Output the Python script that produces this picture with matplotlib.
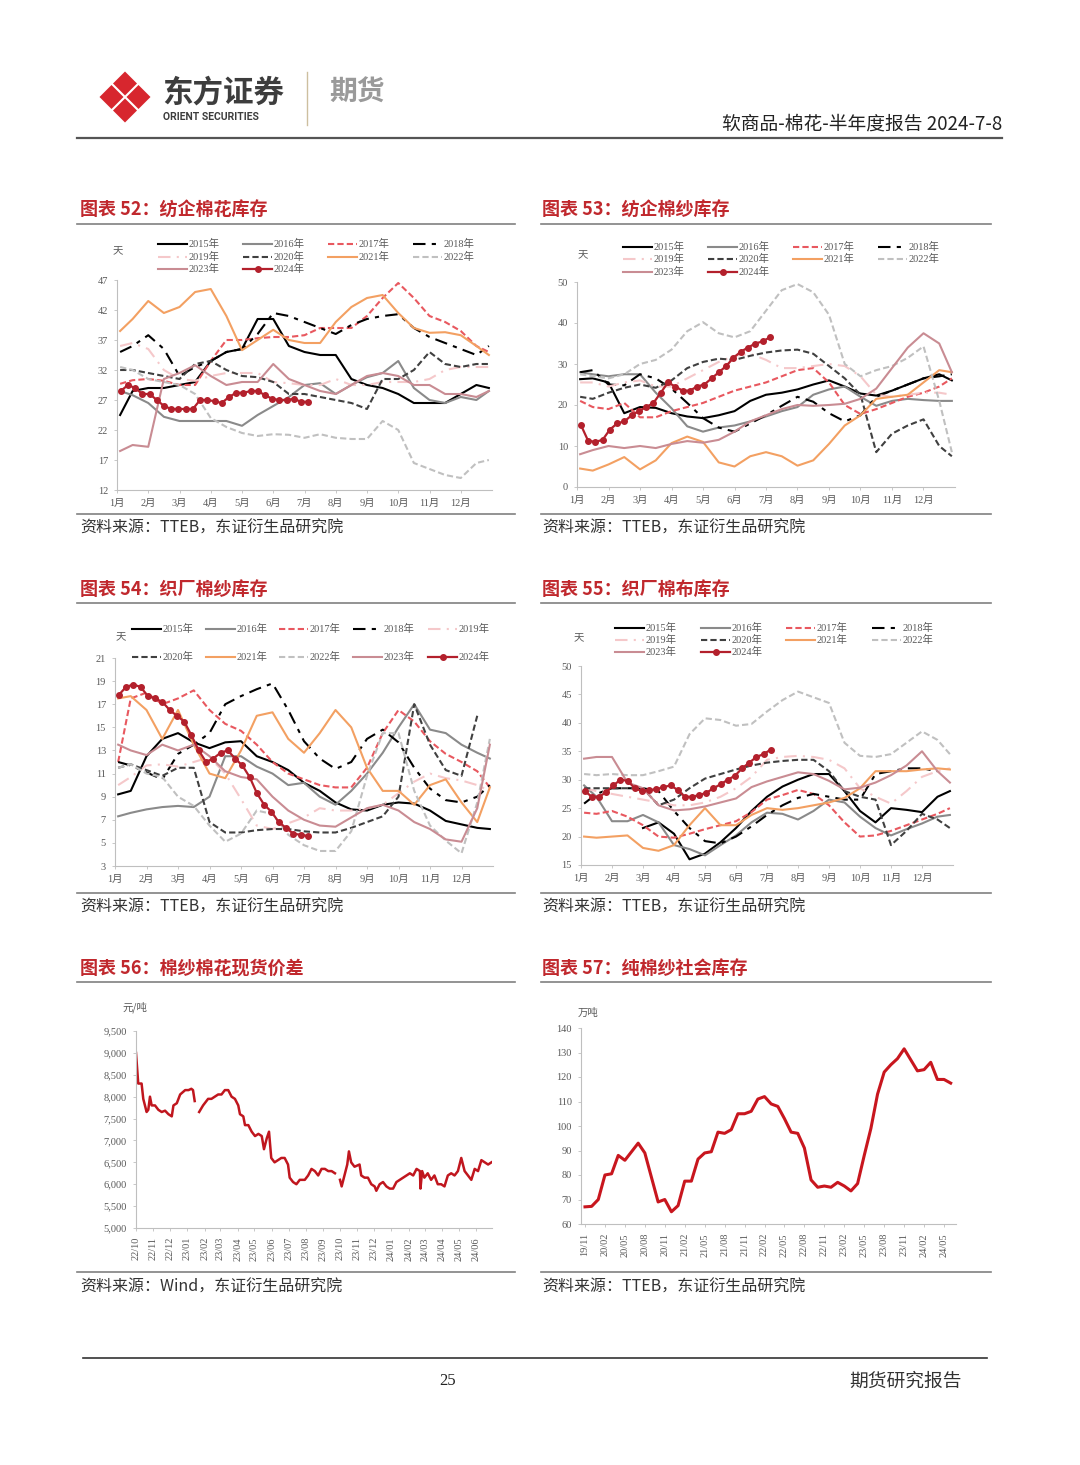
import matplotlib
matplotlib.use("Agg")
import matplotlib.pyplot as plt
import numpy as np
import pandas as pd
from matplotlib.patches import Polygon
from matplotlib.ticker import FuncFormatter
import matplotlib.dates as mdates

plt.rcParams["font.family"] = ["Liberation Serif", "Noto Sans CJK SC"]
plt.rcParams["axes.unicode_minus"] = False
SANS = ["Noto Sans CJK SC", "DejaVu Sans"]
SERIF = ["Liberation Serif", "Noto Sans CJK SC"]

nan = np.nan

# ---------------- data ----------------
years = ["2015", "2016", "2017", "2018", "2019", "2020", "2021", "2022", "2023", "2024"]
month_labels = ["1月", "2月", "3月", "4月", "5月", "6月", "7月", "8月", "9月", "10月", "11月", "12月"]

# sample points, months since Jan 1 (half-month steps)
half_month = [0.1, 0.5, 1.0, 1.5, 2.0, 2.5, 3.0, 3.5, 4.0, 4.5, 5.0, 5.5, 6.0,
              6.5, 7.0, 7.5, 8.0, 8.5, 9.0, 9.5, 10.0, 10.5, 11.0, 11.5, 11.9]
# 2024 is weekly
week_2024 = np.arange(27) * 12 / 52 + 0.12

# 图表52 纺企棉花库存 (天)
cot52_2015 = [24.5, 28.5, 29, 29, 29.5, 30, 33.5, 35, 35.5, 40.5, 40.5, 36, 35, 34.5, 34.5, 30.5, 29.5, 29, 28, 26.5, 26.5, 26.5, 28, 29.5, 29]
cot52_2016 = [28.5, 27.8, 26.5, 24.2, 23.5, 23.5, 23.5, 23.5, 22.7, 24.5, 26, 27.5, 29.5, 29.8, 28, 29.5, 30.8, 31.5, 33.5, 29, 27, 26.5, 27.5, 27, 28.5]
cot52_2017 = [29.7, 30.3, 30.5, 30.2, 29.5, 29.5, 33.5, 37, 37, 37.3, 37.5, 37.5, 37.8, 39, 39, 39, 41, 44, 46.5, 44, 41, 40, 38.5, 36, 35]
cot52_2018 = [35, 36, 37.8, 35.5, 31, 32.5, 33.5, 35, 35.5, 38, 41.5, 41, 40, 39, 38, 39.5, 40.5, 41, 41.3, 39, 37.5, 36.5, 35.5, 34.5, 36]
cot52_2019 = [36, 36.5, 35.5, 32, 30.5, 30.2, 31, 31.5, 31.5, 31.5, 30, 29.8, 29.5, 29.5, 30.5, 29.5, 29.5, 30, 30, 30, 30.5, 32, 32.5, 32.5, 32.5]
cot52_2020 = [32, 32, 31.5, 31, 30.5, 33, 33.5, 32, 31, 30.8, 30, 28, 28, 27.5, 27, 26.5, 25.5, 30.5, 30.5, 32, 35, 33, 32.5, 33, 33]
cot52_2021 = [38.5, 40.5, 43.5, 41.5, 42.5, 45, 45.5, 41, 35.3, 37, 38.7, 37, 36.5, 36.5, 40, 42.5, 44, 44.5, 41.5, 39, 38.2, 38.3, 37.8, 36, 34.5]
cot52_2022 = [32.5, 32, 30.5, 30, 29.5, 28, 24, 22.5, 21.5, 21, 21.3, 21.2, 20.7, 21.3, 20.7, 20.5, 20.5, 23.5, 22, 16.5, 15.5, 14.5, 14, 16.5, 17]
cot52_2023 = [18.5, 19.5, 19.2, 30.5, 31.5, 32.8, 31, 29.5, 30, 30, 33, 30.5, 29.5, 28.5, 28, 29.5, 31, 31.5, 31, 29.5, 29.5, 28, 28, 27.5, 28.5]
cot52_2024 = [28.5, 29.5, 29, 28, 28, 27, 26, 25.5, 25.5, 25.5, 25.5, 27, 27, 26.8, 26.5, 27.5, 28.2, 28.2, 28.5, 28.5, 27.8, 27.2, 27, 27, 27.2, 26.7, 26.7]

# 图表53 纺企棉纱库存 (天)
yarn53_2015 = [26.3, 26.5, 25.5, 18, 19.5, 19.3, 18, 17.2, 16.8, 17.5, 18.5, 21, 22.5, 23, 23.8, 25, 26, 24.5, 22.8, 22.3, 23.5, 25, 26.5, 27.5, 26]
yarn53_2016 = [28, 27.5, 27, 27.5, 27.5, 23, 19.2, 14.8, 13.5, 14.5, 15, 16, 17.2, 18.5, 19.5, 22.5, 23.8, 24.5, 22, 19.8, 21, 21.5, 21.2, 21, 21]
yarn53_2017 = [21, 19.5, 19, 20.5, 17, 17, 18.5, 19.5, 20.5, 22, 23.5, 24.5, 25.5, 27, 28.5, 29, 25.5, 20, 17.8, 19, 20.5, 22, 23, 24.5, 26.5]
yarn53_2018 = [28, 28.5, 25, 24.8, 27.5, 26.5, 24, 20.5, 16.8, 14.5, 13.5, 15.5, 17.5, 19.8, 22, 20.8, 18, 16, 17.5, 22, 23.5, 25, 26.5, 27, 27.5]
yarn53_2019 = [25.5, 25.5, 24.5, 25.5, 26, 24.5, 24.5, 26.5, 28.5, 30.5, 32, 32.5, 31, 29, 29, 29.5, 30, 29.5, 27, 22.5, 22, 22.5, 23, 23, 22.5]
yarn53_2020 = [22, 21.5, 23, 24.2, 25, 24.2, 26, 29, 30.5, 31.3, 31, 32, 32.8, 33.3, 33.5, 32.5, 29.5, 26.5, 22.5, 8.5, 13, 15, 16.5, 10, 7.5]
yarn53_2021 = [4.5, 4, 5.5, 7.3, 4.3, 6.5, 10.7, 12.3, 11, 6, 5, 7.5, 8.5, 7.5, 5.2, 6.5, 10.5, 15, 17.5, 21.5, 22, 22.5, 25.5, 28.5, 28]
yarn53_2022 = [27.5, 27, 26.5, 27.5, 30, 31, 33.5, 38, 40.2, 37.5, 36.5, 38, 43, 48, 49.5, 47.5, 42, 30, 27, 28.5, 29.5, 31.5, 34.3, 21, 8.5]
yarn53_2023 = [8, 9, 10, 9.5, 10, 9.5, 10.5, 11.2, 10.8, 11.5, 13.5, 16, 17.5, 19, 20, 19.8, 20, 20.3, 21.5, 24, 29, 34, 37.5, 35, 28]
yarn53_2024 = [15.2, 11.3, 11, 11.5, 14, 15.5, 16, 17.5, 18.5, 19.5, 20.5, 23, 25.5, 24.5, 23.5, 23.5, 24.5, 25, 26.5, 28, 29.5, 31.5, 33, 34, 35, 35.5, 36.5]

# 图表54 织厂棉纱库存 (天)
weave54_2015 = [9.2, 9.5, 12.5, 14, 14.5, 13.7, 13.2, 13.7, 13.8, 12.5, 12, 11.3, 10.2, 9.5, 8.5, 7.9, 7.8, 8.3, 8.5, 8.4, 7.8, 6.9, 6.6, 6.3, 6.2]
weave54_2016 = [7.3, 7.6, 7.9, 8.1, 8.2, 8.1, 9, 12.5, 12.5, 11.6, 11, 10, 10.2, 9, 8.3, 9.5, 11, 12.8, 15, 17, 14.8, 14.5, 13.5, 12.8, 12.3]
weave54_2017 = [12, 17.5, 18, 17, 17.5, 18.2, 16.5, 15.3, 14.7, 13.5, 12, 11, 10.5, 10, 9.8, 9.8, 11.5, 14.5, 16.5, 15.5, 13.8, 12.7, 12, 11.2, 9.8]
weave54_2018 = [12, 11.7, 11.1, 10.5, 12.7, 13.5, 14.5, 17, 17.7, 18.3, 18.8, 16.5, 13.8, 12.3, 11.4, 12, 14, 14.8, 13.7, 11.5, 9.7, 8.7, 8.5, 9, 10]
weave54_2019 = [10, 10.7, 11.7, 11.8, 11.6, 12, 12.4, 11, 8.8, 6.5, 6.2, 6.7, 7.2, 8, 7.8, 7.8, 8, 8.3, 9.3, 10.3, 11, 10.6, 10.4, 10, 9.5]
weave54_2020 = [11.5, 11.8, 11.3, 10.8, 11.5, 11.5, 6.8, 5.9, 5.9, 6.1, 6.2, 6.2, 6, 5.9, 5.9, 6.3, 6.8, 7.3, 9, 17, 13.5, 11.3, 10.8, 16, nan]
weave54_2021 = [17.5, 17.7, 16.5, 14, 16.5, 13.5, 11, 10.6, 13, 16, 16.3, 14, 12.8, 14.5, 16.5, 15, 11.5, 9.5, 9.5, 8.3, 10, 10.5, 8.5, 6.8, 9.8]
weave54_2022 = [11.5, 11.8, 11, 10.7, 9, 8.2, 6.5, 5.1, 5.8, 7.8, 7.5, 5.7, 4.8, 4.3, 4.3, 6, 10.8, 14.5, 14.5, 9.5, 6.5, 5.2, 4.1, 8.5, 14]
weave54_2023 = [13.5, 13, 12.6, 13.5, 13, 13.5, 12.5, 11.2, 10.7, 10.5, 9, 7.8, 7, 6.5, 6.4, 7.2, 8, 8.3, 7.8, 6.8, 6.2, 5.3, 5.1, 8, 13.5]
weave54_2024 = [17.8, 18.5, 18.7, 18.5, 17.7, 17.5, 17.2, 16.5, 16, 15.5, 14.3, 13, 12, 12.3, 12.8, 13, 12.3, 11.7, 10.7, 9.3, 8.3, 7.7, 6.8, 6.3, 5.8, 5.7, 5.6]

# 图表55 织厂棉布库存 (天)
cloth55_2015 = [nan, nan, nan, nan, 21.5, 22.5, 20.5, 16, 17, 19, 21.5, 24.5, 27, 28.8, 30, 31, 31, 28, 24.5, 22.5, 25, 24.7, 24.3, 27, 28]
cloth55_2016 = [29, 27, 22.7, 22.7, 23.8, 22.5, 18.5, 17.8, 16.7, 18.5, 20.2, 22.5, 24.2, 24, 23, 24.5, 26.5, 26, 23.5, 21.5, 20.2, 21.3, 22.3, 23.5, 23.8]
cloth55_2017 = [24.2, 24, 24.5, 23.5, 22, 20, 19.8, 20.5, 21.3, 22, 22.7, 24.3, 26.5, 27.3, 28.2, 27.5, 25.5, 22.5, 20, 20.2, 21, 22, 23, 24, 25]
cloth55_2018 = [25.8, 27.5, 28.5, 28.5, 28.5, 28, 24.5, 21.5, 19.2, 18.8, 20, 21.8, 23.8, 25.5, 26.8, 27.5, 27, 26.5, 26.5, 31, 31.5, 32, 32, 31.5, nan]
cloth55_2019 = [28.5, 28, 27.5, 27, 26.5, 26, 25.5, 25.5, 26, 27, 28.5, 30.5, 33.5, 34, 34.2, 34, 33.5, 32, 28.5, 27, 25.8, 28, 30.5, 31.5, 32]
cloth55_2020 = [28.5, 28.5, 28.5, 28.5, 28.5, 25.5, 26.5, 28.5, 30.2, 31, 31.8, 32.5, 33, 33.3, 33.5, 33.5, 31.5, 28, 27, 26.5, 18.5, 21, 24, 23, 21.5]
cloth55_2021 = [20, 19.8, 20, 20.2, 18, 17.5, 18.5, 22, 25, 22, 22, 23.8, 25, 24.7, 25, 25.5, 26, 26.8, 28.5, 31.5, 31.5, 31.5, 31.8, 32, 31.8]
cloth55_2022 = [31, 30.8, 31, 30.8, 30.8, 31.5, 32.3, 38, 40.8, 40.5, 39.5, 39.8, 42, 44, 45.5, 44.5, 43.5, 36.5, 34.2, 34, 34.5, 36.5, 38.5, 37, 34.5]
cloth55_2023 = [33.7, 34, 34, 29.5, 28.5, 25.5, 24.6, 24.8, 25.3, 26, 26.7, 28.7, 29.7, 30.5, 31.3, 31, 29.8, 28.3, 28.6, 29.5, 30.8, 32.5, 35, 31.5, 29.5]
cloth55_2024 = [28, 27, 27, 27.8, 29, 30, 29.8, 28.5, 28, 28.2, 28.3, 28.7, 29, 28.2, 27, 27, 27.3, 27.7, 28.5, 29.2, 30, 30.7, 32, 33, 34, 34.5, 35.3]

# 图表56 棉纱棉花现货价差 (元/吨), days since 2022-10-01
spread_start = "2022-10-01"
spread_days = [0, 4, 10, 13, 19, 22, 25, 28, 34, 40,
               46, 52, 58, 64, 67, 73, 79, 88, 94, 99,
               102, 105, 109, 113, 120, 129, 135, 141, 147, 153,
               159, 165, 171, 177, 183, 186, 192, 195, 201, 207,
               213, 219, 225, 229, 234, 238, 242, 248, 254, 260,
               266, 272, 275, 281, 287, 293, 302, 308, 314, 320,
               326, 332, 338, 344, 350, 356, 360, 365, 368, 373,
               378, 381, 385, 391, 400, 403, 409, 415, 421, 427,
               430, 436, 442, 448, 454, 460, 466, 472, 478, 484,
               490, 496, 502, 508, 509, 512, 516, 522, 528, 534,
               540, 546, 552, 558, 564, 570, 576, 582, 588, 594,
               600, 606, 612, 618, 624, 630, 636]
spread_vals = [9000, 8300, 8300, 7950, 7650, 7700, 8000, 7800, 7800, 7700,
               7650, 7680, 7600, 7550, 7800, 7850, 8050, 8150, 8150, 8180,
               8150, 7900, nan, 7650, 7800, 7950, 7950, 8000, 8050, 8050,
               8150, 8150, 8000, 7950, 7800, 7600, 7550, 7350, 7350, 7200,
               7100, 7150, 7100, 6800, 7050, 7200, 6600, 6500, 6550, 6600,
               6600, 6450, 6150, 6050, 6000, 6100, 6100, 6200, 6350, 6300,
               6200, 6350, 6350, 6300, 6300, 6250, nan, 6100, 5950, 6200,
               6450, 6750, 6500, 6400, 6450, 6200, 6150, 6150, 6000, 5950,
               5850, 6000, 6050, 5950, 5900, 5900, 6050, 6100, 6150, 6200,
               6250, 6200, 6350, 6300, 5900, 6300, 6150, 6250, 6100, 6200,
               6000, 6000, 5950, 6200, 6250, 6200, 6300, 6600, 6300, 6200,
               6100, 6350, 6300, 6550, 6500, 6450, 6500]

# 图表57 纯棉纱社会库存 (万吨), monthly from 2019-11
stock_start = "2019-11"
stock_vals = [67, 67.2, 70, 80, 80.5, 88, 86, 89.5, 93, 89,
              79, 69, 70, 65, 67.5, 77.5, 77.5, 86.5, 89, 89.5,
              97.5, 97, 98.5, 105, 105, 106, 111, 112, 109, 108,
              103, 97.5, 97, 91, 78, 75, 75.5, 75, 77, 75.5,
              73.5, 76.5, 88, 99, 113, 122, 125, 127.5, 131.5, 127,
              122.5, 123, 126, 119, 119, 117.5]

# ---------------- styles ----------------
styles = {
    "2015": dict(color="#000000", ls="-", lw=1.5),
    "2016": dict(color="#8a8a8a", ls="-", lw=1.5),
    "2017": dict(color="#e8585f", ls=(0, (3, 1.5)), lw=1.5),
    "2018": dict(color="#000000", ls=(0, (6, 3, 2, 3)), lw=1.5),
    "2019": dict(color="#f5c8ca", ls=(0, (6, 3, 1, 3)), lw=1.5),
    "2020": dict(color="#404040", ls=(0, (3, 1.5)), lw=1.5),
    "2021": dict(color="#f3a062", ls="-", lw=1.5),
    "2022": dict(color="#c0c0c0", ls=(0, (3, 1.5)), lw=1.5),
    "2023": dict(color="#c98c93", ls="-", lw=1.5),
    "2024": dict(color="#b3202c", ls="-", lw=1.6, marker="o", ms=4),
}
TICK_C = "#595959"
SPINE_C = "#bfbfbf"

W, H = 1080, 1465
fig = plt.figure(figsize=(W / 100, H / 100), dpi=100)


def px_rect(l, t, r, b):
    return [l / W, 1 - b / H, (r - l) / W, (b - t) / H]


def style_axes(ax):
    ax.set_facecolor("none")
    for s in ["top", "right"]:
        ax.spines[s].set_visible(False)
    for s in ["left", "bottom"]:
        ax.spines[s].set_color(SPINE_C)
        ax.spines[s].set_linewidth(0.8)
    ax.tick_params(axis="both", labelsize=7.5, color=SPINE_C, labelcolor=TICK_C,
                   length=2.5, width=0.6, pad=4)


def season_chart(box, series, last, ylim, yticks):
    ax = fig.add_axes(px_rect(*box))
    for yr, vals in zip(years[:9], series):
        ax.plot(half_month, vals, **styles[yr], zorder=2)
    ax.plot(week_2024, last, **styles["2024"], zorder=5)
    ax.set_xlim(0, 12)
    ax.set_ylim(*ylim)
    ax.set_yticks(yticks)
    ax.set_xticks(range(12))
    ax.set_xticklabels(month_labels)
    style_axes(ax)
    return ax


season_chart((117, 280, 492, 490),
             [cot52_2015, cot52_2016, cot52_2017, cot52_2018, cot52_2019,
              cot52_2020, cot52_2021, cot52_2022, cot52_2023],
             cot52_2024, (12, 47), range(12, 48, 5))
season_chart((577, 282, 955, 487),
             [yarn53_2015, yarn53_2016, yarn53_2017, yarn53_2018, yarn53_2019,
              yarn53_2020, yarn53_2021, yarn53_2022, yarn53_2023],
             yarn53_2024, (0, 50), range(0, 51, 10))
season_chart((115, 658, 493, 866),
             [weave54_2015, weave54_2016, weave54_2017, weave54_2018, weave54_2019,
              weave54_2020, weave54_2021, weave54_2022, weave54_2023],
             weave54_2024, (3, 21), range(3, 22, 2))
season_chart((581, 666, 953, 865),
             [cloth55_2015, cloth55_2016, cloth55_2017, cloth55_2018, cloth55_2019,
              cloth55_2020, cloth55_2021, cloth55_2022, cloth55_2023],
             cloth55_2024, (15, 50), range(15, 51, 5))

# 图表56
ax56 = fig.add_axes(px_rect(136, 1031, 492, 1228))
d56 = pd.Timestamp(spread_start) + pd.to_timedelta(spread_days, unit="D")
ax56.plot(d56, spread_vals, color="#c0161e", lw=1.8)
ax56.set_xlim(pd.Timestamp(spread_start), pd.Timestamp(spread_start) + pd.Timedelta(days=637))
ax56.set_ylim(5000, 9500)
ax56.set_yticks(range(5000, 9501, 500))
ax56.yaxis.set_major_formatter(FuncFormatter(lambda v, p: f"{int(v):,}"))
ax56.xaxis.set_major_locator(mdates.MonthLocator())
ax56.xaxis.set_major_formatter(mdates.DateFormatter("%y/%m"))
style_axes(ax56)
ax56.tick_params(axis="x", rotation=90)

# 图表57
ax57 = fig.add_axes(px_rect(581, 1028, 956, 1224))
m57 = pd.period_range(stock_start, periods=len(stock_vals), freq="M")
x57 = np.arange(len(stock_vals))
ax57.plot(x57, stock_vals, color="#c8161e", lw=2.2)
ax57.set_xlim(-0.6, 55.8)
ax57.set_ylim(60, 140)
ax57.set_yticks(range(60, 141, 10))
ax57.set_xticks(x57[::3])
ax57.set_xticklabels([p.strftime("%y/%m") for p in m57[::3]], rotation=90)
style_axes(ax57)

# ---------------- page overlay (pixel coords) ----------------
ov = fig.add_axes([0, 0, 1, 1], zorder=10)
ov.set_xlim(0, W)
ov.set_ylim(H, 0)
ov.axis("off")

# logo
cx, cy, off, r = 125, 97, 13.5, 12
for dx, dy in [(0, -off), (-off, 0), (off, 0), (0, off)]:
    x0, y0 = cx + dx, cy + dy
    ov.add_patch(Polygon([(x0, y0 - r), (x0 + r, y0), (x0, y0 + r), (x0 - r, y0)],
                         closed=True, color="#d7262e", lw=0))
ov.text(162, 93, "东方证券", fontsize=22, weight="bold", color="#3d3d3d", va="center", family=SANS)
ov.text(163, 117, "ORIENT SECURITIES", fontsize=7.5, weight="bold", color="#3d3d3d",
        va="center", family=["Roboto", "DejaVu Sans"])
ov.plot([307, 307], [72, 125], color="#cdbf9f", lw=1)
ov.text(329, 93, "期货", fontsize=20, weight="bold", color="#9a9a9a", va="center", family=SANS)
ov.text(1002, 124, "软商品-棉花-半年度报告 2024-7-8", fontsize=13.5, color="#222222",
        ha="right", va="center", family=SANS)
ov.plot([77, 1002], [138, 138], color="#555555", lw=1.6)

# footer
ov.plot([83, 987], [1358, 1358], color="#333333", lw=1.2)
ov.text(448, 1381, "25", fontsize=12, ha="center", va="center", family=SERIF, color="#222222")
ov.text(962, 1381, "期货研究报告", fontsize=13.5, ha="right", va="center", family=SANS, color="#333333")

# section frames
panels = [
    (80, 77, 515, 210, 224, 514, 528, "图表 52：纺企棉花库存", "资料来源：TTEB，东证衍生品研究院"),
    (542, 541, 991, 210, 224, 514, 528, "图表 53：纺企棉纱库存", "资料来源：TTEB，东证衍生品研究院"),
    (80, 77, 515, 589, 603, 893, 907, "图表 54：织厂棉纱库存", "资料来源：TTEB，东证衍生品研究院"),
    (542, 541, 991, 589, 603, 893, 907, "图表 55：织厂棉布库存", "资料来源：TTEB，东证衍生品研究院"),
    (80, 77, 515, 968, 982, 1272, 1287, "图表 56：棉纱棉花现货价差", "资料来源：Wind，东证衍生品研究院"),
    (542, 541, 991, 968, 982, 1272, 1287, "图表 57：纯棉纱社会库存", "资料来源：TTEB，东证衍生品研究院"),
]
for tx, x0, x1, ty, ly, by, sy, title, src in panels:
    ov.text(tx, ty, title, fontsize=13, weight="bold", color="#c0282d", va="center", family=SANS)
    ov.plot([x0, x1], [ly, ly], color="#808080", lw=1.2)
    ov.plot([x0, x1], [by, by], color="#808080", lw=1.2)
    ov.text(tx, sy, src, fontsize=11.5, color="#333333", va="center", family=SANS)

# units
for ux, uy, txt in [(113, 251, "天"), (578, 255, "天"), (116, 637, "天"), (574, 638, "天"),
                    (122, 1007, "元/吨"), (578, 1013, "万吨")]:
    ov.text(ux, uy, txt, fontsize=7.5, color=TICK_C, va="center", family=SANS)


def legend_grid(cols, rows, ncol):
    for i, yr in enumerate(years):
        x = cols[i % ncol]
        y = rows[i // ncol]
        st = dict(styles[yr])
        mk = st.pop("marker", None)
        ms = st.pop("ms", None)
        ov.plot([x, x + 29], [y, y], **st)
        if mk:
            ov.plot([x + 14.5], [y], marker=mk, ms=ms, color=st["color"])
        ov.text(x + 31, y, yr + "年", fontsize=7.5, color=TICK_C, va="center", family=SERIF)


legend_grid([158, 243, 328, 413], [244, 257, 269], 4)
legend_grid([623, 708, 793, 878], [247, 259, 272], 4)
legend_grid([132, 206, 279, 353, 428], [629, 657], 5)
legend_grid([615, 701, 786, 872], [628, 640, 652], 4)

fig.savefig("out.png", dpi=100)
